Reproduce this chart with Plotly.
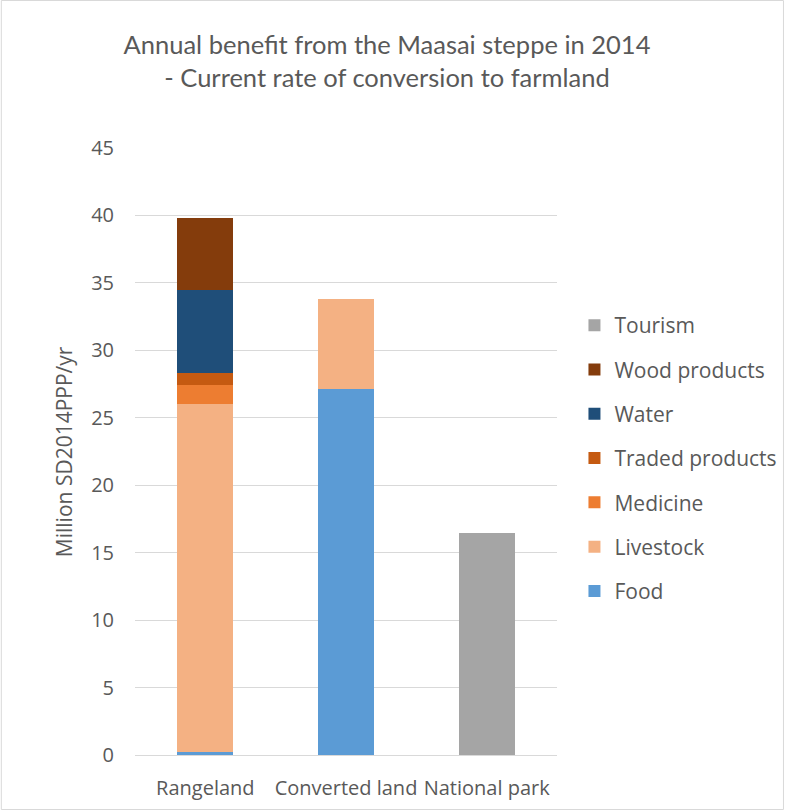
import plotly.graph_objects as go

categories = ["Rangeland", "Converted land", "National park"]
series_names = ["Food", "Livestock", "Medicine", "Traded products", "Water", "Wood products", "Tourism"]
food = [0.2, 27.1, 0]
livestock = [25.8, 6.7, 0]
medicine = [1.45, 0, 0]
traded = [0.9, 0, 0]
water = [6.1, 0, 0]
wood = [5.35, 0, 0]
tourism = [0, 0, 16.45]
colors = ["#5b9bd5", "#f4b183", "#ed7d31", "#c55a11", "#1f4e79", "#843c0c", "#a5a5a5"]
y_ticks = [0, 5, 10, 15, 20, 25, 30, 35, 40, 45]

values = [food, livestock, medicine, traded, water, wood, tourism]

fig = go.Figure()
n = len(series_names)
for i, (name, vals, col) in enumerate(zip(series_names, values, colors)):
    fig.add_trace(go.Bar(x=categories, y=vals, name=name, marker_color=col,
                         marker_line_width=0, legendgroup=name, legendrank=n - i))

W, H = 786, 811
L, R, T, B = 134.5, 228.5, 148, 56
pw, ph = W - L - R, H - T - B

fig.update_layout(
    width=W, height=H,
    barmode="stack", bargap=0.6,
    plot_bgcolor="white", paper_bgcolor="white",
    margin=dict(l=L, r=R, t=T, b=B, autoexpand=False),
    font=dict(family="Open Sans", color="#595959"),
    title=dict(text="Annual benefit from the Maasai steppe in 2014<br>- Current rate of conversion to farmland",
               x=387 / W, xref="container", xanchor="center", y=1 - 54 / H, yanchor="middle",
               font=dict(size=25.5, color="#595959", family="Lato")),
    xaxis=dict(showgrid=False, showline=True, linecolor="#d9d9d9", linewidth=1,
               tickfont=dict(size=20, color="#595959"), ticks="", ticklabelstandoff=15),
    yaxis=dict(range=[0, 45], tickvals=y_ticks, showgrid=True, gridcolor="#d9d9d9",
               zeroline=False, tickfont=dict(size=20, color="#595959"), ticklabelstandoff=20),
    legend=dict(x=(575 - L) / pw, xanchor="left", y=(H - B - 305) / ph, yanchor="top",
                traceorder="grouped", tracegroupgap=14,
                font=dict(size=21, color="#595959"), bgcolor="rgba(0,0,0,0)"),
    annotations=[dict(text="Million SD2014PPP/yr", textangle=-90, showarrow=False,
                      xref="paper", yref="paper", x=(63 - L) / pw, y=0.5,
                      xanchor="center", yanchor="middle",
                      font=dict(size=21, color="#595959", family="Open Sans"))],
    shapes=[dict(type="rect", xref="paper", yref="paper",
                 x0=-(L - 0.5) / pw, x1=1 + (R - 1.5) / pw,
                 y0=-(B - 1.5) / ph, y1=1 + (T - 0.5) / ph,
                 line=dict(color="#d9d9d9", width=1), fillcolor="rgba(0,0,0,0)", layer="below")],
)

fig.write_html("out.html")
